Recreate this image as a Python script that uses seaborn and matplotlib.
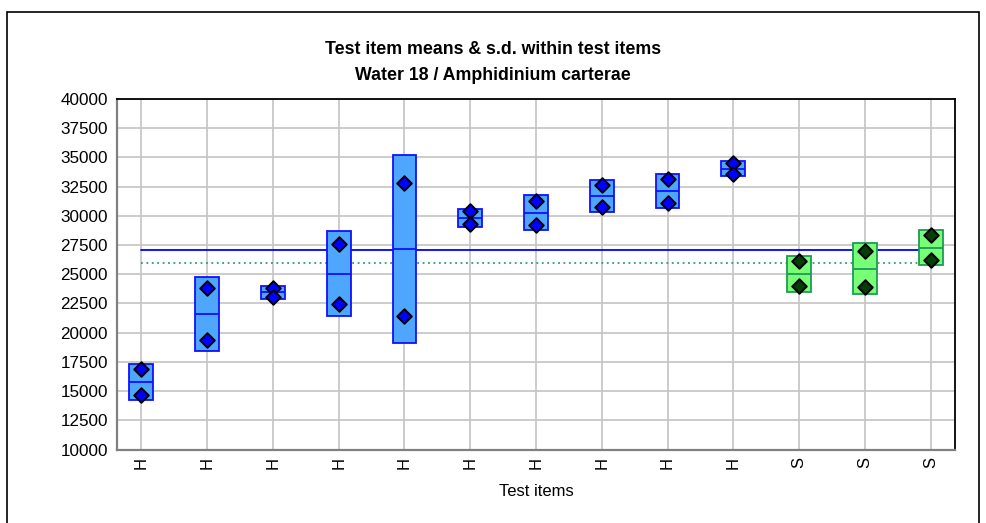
import numpy as np
import pandas as pd
import matplotlib
matplotlib.use("Agg")
import matplotlib.pyplot as plt
from matplotlib.patches import Rectangle
import seaborn as sns

# Replicate results per test item (two replicates each)
item_types = ["H", "H", "H", "H", "H", "H", "H", "H", "H", "H", "S", "S", "S"]
replicate_1 = [16880, 23800, 23850, 27620, 32850, 30380, 31310, 32680, 33140, 34500, 26140, 27010, 28360]
replicate_2 = [14700, 19340, 23070, 22480, 21450, 29300, 29220, 30740, 31060, 33600, 23970, 23950, 26200]
y_ticks = list(range(10000, 40001, 2500))

title_lines = ["Test item means & s.d. within test items", "Water 18 / Amphidinium carterae"]
x_label = "Test items"

reps = pd.DataFrame({
    "pos": list(range(len(item_types))) * 2,
    "type": item_types * 2,
    "value": replicate_1 + replicate_2,
})
stats = reps.groupby("pos").agg(type=("type", "first"), mean=("value", "mean"), sd=("value", "std")).reset_index()
group_means = reps.groupby("type")["value"].mean()

sns.set_theme(style="white")
plt.rcParams["font.family"] = ["Liberation Sans", "DejaVu Sans"]
plt.rcParams["text.color"] = "black"
plt.rcParams["axes.labelcolor"] = "black"

fig = plt.figure(figsize=(9.86, 5.23), dpi=100)
ax = fig.add_axes([117 / 986, 1 - 449.5 / 523, (955 - 117) / 986, (449.5 - 99) / 523])

# outer frame around the whole chart
fig.patches.append(Rectangle((7 / 986, -0.05), (979 - 7) / 986, 1.05 - 12 / 523,
                             transform=fig.transFigure, fill=False,
                             edgecolor="black", linewidth=1.2, zorder=0))

ax.set_xlim(-0.37, len(item_types) - 1 + 0.37)
ax.set_ylim(10000, 40000)
ax.set_yticks(y_ticks)
ax.set_yticklabels([str(t) for t in y_ticks], fontsize=12.3)
ax.set_xticks(stats["pos"])
ax.set_xticklabels(stats["type"], rotation=90, fontsize=12)

ax.grid(True, color="#c4c4c4", linewidth=1.2)
ax.set_axisbelow(True)
for side in ("left", "bottom"):
    ax.spines[side].set_color("#808080")
    ax.spines[side].set_linewidth(1.6)
for side in ("top", "right"):
    ax.spines[side].set_color("black")
    ax.spines[side].set_linewidth(1.3)
ax.tick_params(axis="both", which="both", direction="out", length=3.5, width=1.0,
               color="#808080", labelcolor="black", pad=2)
ax.tick_params(axis="y", length=4.5)

# group reference lines spanning all items
span = pd.DataFrame({"pos": [stats["pos"].min(), stats["pos"].max()]})
sns.lineplot(data=span.assign(v=group_means["H"]), x="pos", y="v", ax=ax,
             color="#0000ff", linewidth=1.3, zorder=2)
sns.lineplot(data=span.assign(v=group_means["S"]), x="pos", y="v", ax=ax,
             color="#2e9e6a", linewidth=1.3, linestyle=(0, (1, 2)), zorder=2)

styles = {
    "H": dict(fill="#4fa6ff", edge="#1010ff", dot="#0000ff"),
    "S": dict(fill="#77ff77", edge="#1f9a55", dot="#063d06"),
}
width = 0.36
for _, r in stats.iterrows():
    st = styles[r["type"]]
    ax.bar(r["pos"], 2 * r["sd"], bottom=r["mean"] - r["sd"], width=width,
           color=st["fill"], edgecolor=st["edge"], linewidth=1.3, zorder=3)
    ax.hlines(r["mean"], r["pos"] - width / 2, r["pos"] + width / 2,
              color=st["edge"], linewidth=1.3, zorder=4)

for t, st in styles.items():
    sns.scatterplot(data=reps[reps["type"] == t], x="pos", y="value", ax=ax,
                    marker="D", s=55, color=st["dot"], edgecolor="black",
                    linewidth=1.4, zorder=5, legend=False)

ax.set_xlabel(x_label, fontsize=12, labelpad=11, color="black")
ax.set_ylabel("")

fig.text(0.5, 1 - 50 / 523, title_lines[0], ha="center", va="center",
         fontsize=12.8, fontweight="bold", color="black")
fig.text(0.5, 1 - 75 / 523, title_lines[1], ha="center", va="center",
         fontsize=12.8, fontweight="bold", color="black")

fig.savefig("out.png", dpi=100, facecolor="white")
